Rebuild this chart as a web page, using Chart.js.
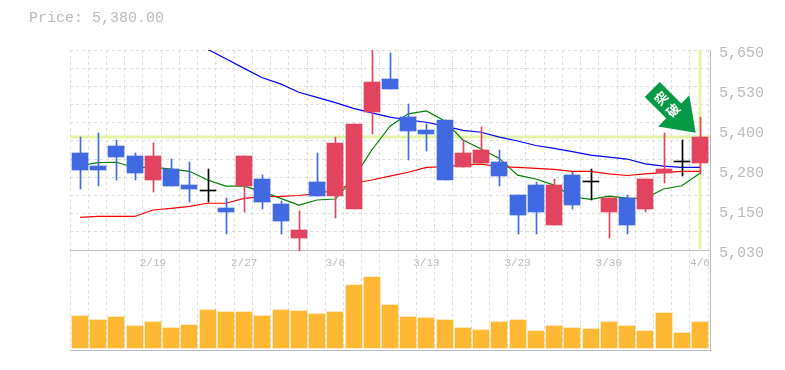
<!DOCTYPE html>
<html>
<head>
<meta charset="utf-8">
<script src="https://cdn.jsdelivr.net/npm/chart.js@4"></script>
<style>
  html, body { margin: 0; padding: 0; background: #fff; overflow: hidden; }
  #wrap { position: relative; width: 785px; height: 370px; }
  #price { position: absolute; left: 29px; top: 10px; font: 15px "Liberation Mono", monospace; color: #bbb; }
</style>
</head>
<body>
<div id="wrap">
  <canvas id="chart" width="785" height="370"></canvas>
  <div id="price">Price: 5,380.00</div>
</div>
<script>
const dateLabels = { 4: '2/19', 9: '2/27', 14: '3/6', 19: '3/13', 24: '3/23', 29: '3/30', 34: '4/6' };
const priceTicks = [5650, 5526, 5402, 5278, 5154, 5030];
const priceTickLabels = ['5,650', '5,530', '5,400', '5,280', '5,150', '5,030'];
const lastPrice = 5380;
const arrowText = ['突', '破'];

const opens = [5331, 5290, 5352, 5321, 5247, 5281, 5231, 5212, 5160, 5228, 5250, 5173, 5067, 5241, 5197, 5157, 5458, 5560,
  5442, 5402, 5433, 5287, 5300, 5303, 5200, 5231, 5107, 5262, 5240, 5148, 5191, 5157, 5269, 5302, 5300];
const closes = [5278, 5278, 5318, 5269, 5321, 5228, 5219, 5212, 5148, 5321, 5179, 5120, 5092, 5197, 5362, 5421, 5551, 5529,
  5399, 5390, 5247, 5331, 5340, 5259, 5138, 5148, 5231, 5169, 5240, 5191, 5107, 5250, 5281, 5302, 5380];
const highs = [5380, 5393, 5371, 5331, 5362, 5312, 5303, 5281, 5191, 5321, 5262, 5182, 5151, 5331, 5380, 5421, 5650, 5641,
  5483, 5421, 5433, 5371, 5411, 5340, 5200, 5241, 5250, 5272, 5281, 5191, 5200, 5250, 5393, 5371, 5442];
const lows = [5219, 5228, 5247, 5247, 5210, 5228, 5179, 5179, 5081, 5148, 5157, 5081, 5028, 5197, 5129, 5157, 5390, 5529,
  5309, 5337, 5247, 5287, 5300, 5228, 5080, 5081, 5107, 5157, 5185, 5067, 5080, 5148, 5238, 5259, 5266];

const maShort = [5292, 5301, 5302, 5285, 5287, 5281, 5274, 5247, 5228, 5228, 5211, 5190, 5169, 5185, 5188, 5252, 5340, 5414,
  5452, 5461, 5430, 5371, 5343, 5314, 5262, 5250, 5231, 5195, 5187, 5197, 5191, 5190, 5219, 5229, 5268];
const maMid = [5131, 5134, 5134, 5134, 5154, 5159, 5165, 5175, 5175, 5190, 5195, 5196, 5199, 5205, 5216, 5237, 5247, 5259,
  5271, 5286, 5288, 5294, 5296, 5288, 5286, 5283, 5280, 5274, 5274, 5266, 5261, 5266, 5270, 5274, 5274];
const maLong = [null, null, null, null, null, null, null, 5652, 5623, 5593, 5564, 5545, 5519, 5503, 5487, 5469, 5455, 5442,
  5433, 5426, 5414, 5401, 5395, 5380, 5368, 5354, 5345, 5335, 5324, 5318, 5312, 5297, 5290, 5286, 5286];

const volumes = [32, 28, 31, 22, 26, 20, 23, 38, 36, 36, 32, 38, 37, 34, 36, 63, 71, 43,
  31, 30, 28, 20, 18, 26, 28, 17, 22, 20, 19, 26, 22, 17, 35, 15, 26];

const UP = '#e2435f', DOWN = '#4169e1', DOJI = '#000000';
const GRID = '#dddddd', AXIS = '#bbbbbb', MARK = '#e4f4a6';

const idx = opens.map((_, i) => i);
const candleColors = idx.map(i => closes[i] > opens[i] ? UP : closes[i] < opens[i] ? DOWN : DOJI);

function series(values) {
    return values.map((v, i) => ({ x: i, y: v }));
}

// keep bars on whole pixels, the original is not antialiased
const snapBars = {
    id: 'snapBars',
    afterDatasetsUpdate(chart) {
        chart.data.datasets.forEach((ds, d) => {
            if (ds.type !== 'bar') return;
            chart.getDatasetMeta(d).data.forEach(el => {
                el.x = Math.round(el.x) + (ds.barThickness % 2 ? 0.5 : 0);
                el.y = Math.round(el.y);
                el.base = Math.round(el.base);
            });
        });
    }
};

// green arrow pointing at the last candle
const arrow = {
    id: 'arrow',
    afterDatasetsDraw(chart) {
        const c = chart.ctx;
        const tipX = chart.scales.x.getPixelForValue(34) - 4.3;
        const tipY = chart.scales.y.getPixelForValue(lastPrice) - 4.3;
        c.save();
        c.translate(tipX, tipY);
        c.rotate(Math.PI / 4);
        c.fillStyle = '#079a46';
        c.beginPath();
        c.moveTo(0, 0);
        c.lineTo(-31, 22);
        c.lineTo(-31, 10.6);
        c.lineTo(-61.4, 10.6);
        c.lineTo(-61.4, -10.6);
        c.lineTo(-31, -10.6);
        c.lineTo(-31, -22);
        c.closePath();
        c.fill();
        c.fillStyle = '#ffffff';
        c.font = 'bold 13px "Noto Sans CJK JP"';
        c.textAlign = 'center';
        c.textBaseline = 'middle';
        arrowText.forEach((t, i) => {
            c.save();
            c.translate(-49 + i * 17, 0);
            c.rotate(-Math.PI / 2);
            c.fillText(t, 0, 0);
            c.restore();
        });
        c.restore();
    }
};

new Chart(document.getElementById('chart'), {
    data: {
        datasets: [
            { type: 'bar', label: 'Volume', data: series(volumes), yAxisID: 'yv', backgroundColor: '#ffb833', barThickness: 16, grouped: false, order: 9 },
            { type: 'line', label: 'Last', data: [{ x: -0.55, y: lastPrice }, { x: 34.55, y: lastPrice }], borderColor: MARK, borderWidth: 3, pointRadius: 0, order: 8 },
            { type: 'line', label: 'Now', data: [{ x: 34, y: 5033 }, { x: 34, y: 5650 }], borderColor: MARK, borderWidth: 3, pointRadius: 0, order: 8 },
            { type: 'line', label: 'MA long', data: series(maLong), borderColor: '#0000ff', borderWidth: 1.2, pointRadius: 0, order: 5 },
            { type: 'line', label: 'MA mid', data: series(maMid), borderColor: '#ff0000', borderWidth: 1.2, pointRadius: 0, order: 5 },
            { type: 'line', label: 'MA short', data: series(maShort), borderColor: '#008000', borderWidth: 1.2, pointRadius: 0, order: 5 },
            { type: 'bar', label: 'Wick', data: idx.map(i => ({ x: i, y: [lows[i], highs[i]] })), backgroundColor: candleColors, barThickness: 1, grouped: false, order: 2 },
            { type: 'bar', label: 'Body', data: idx.map(i => ({ x: i, y: [Math.min(opens[i], closes[i]), Math.max(opens[i], closes[i])] })), backgroundColor: candleColors, barThickness: 16, minBarLength: 1, grouped: false, order: 1 }
        ]
    },
    plugins: [snapBars, arrow],
    options: {
        responsive: false,
        animation: false,
        layout: { padding: { top: 50, left: 70, right: 0, bottom: 20 } },
        plugins: { legend: { display: false }, tooltip: { enabled: false } },
        scales: {
            x: {
                type: 'linear', min: -0.55, max: 34.55, offset: false,
                afterBuildTicks(s) { s.ticks = Array.from({ length: 36 }, (_, k) => ({ value: -0.55 + k })); },
                ticks: { display: false },
                grid: { color: GRID, drawTicks: false, offset: false },
                border: { color: AXIS, dash: [3, 3] }
            },
            xl: {
                type: 'linear', axis: 'x', min: -0.55, max: 34.55, offset: false, position: { y: 5030 },
                afterBuildTicks(s) { s.ticks = Object.keys(dateLabels).map(k => ({ value: +k })); },
                ticks: {
                    autoSkip: false, maxRotation: 0, padding: 6, color: AXIS,
                    font: { family: 'Liberation Mono', size: 11 },
                    callback: v => dateLabels[v]
                },
                grid: { display: false, drawTicks: false },
                border: { display: false }
            },
            y: {
                position: 'right', min: 4720, max: 5650,
                afterFit(s) { s.width = 75; },
                afterBuildTicks(s) { s.ticks = priceTicks.map(v => ({ value: v })); },
                ticks: {
                    padding: 9, labelOffset: 3, color: AXIS,
                    font: { family: 'Liberation Mono', size: 15 },
                    callback: v => priceTickLabels[priceTicks.indexOf(v)]
                },
                grid: { display: false, drawTicks: false },
                border: { color: AXIS }
            },
            yg: {
                position: 'left', min: 4720, max: 5650,
                afterFit(s) { s.width = 0; },
                afterBuildTicks(s) { s.ticks = Array.from({ length: 12 }, (_, k) => ({ value: 5650 - k * 620 / 11 })); },
                ticks: { display: false },
                grid: {
                    drawTicks: false,
                    color: c => c.index === 11 ? AXIS : GRID
                },
                border: { display: false, dash: c => c.index === 11 ? [] : [3, 3] }
            },
            yv: {
                display: false, min: -2, max: 298
            }
        }
    }
});
</script>
</body>
</html>
